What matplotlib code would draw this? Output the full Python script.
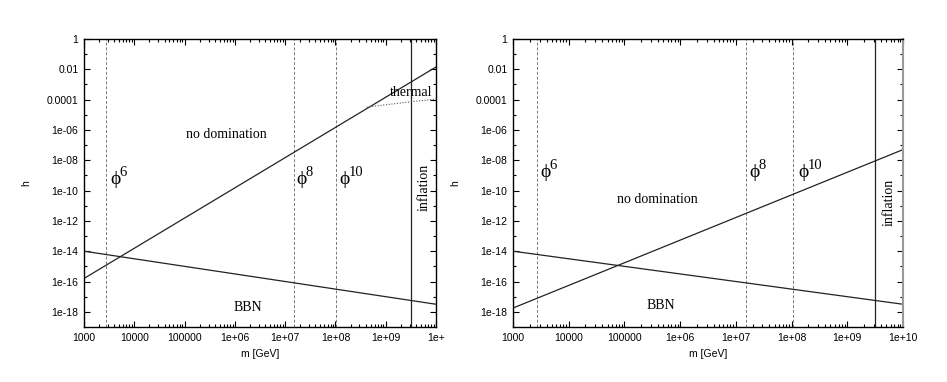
import numpy as np
import matplotlib
matplotlib.use("Agg")
import matplotlib.pyplot as plt
from matplotlib.ticker import FixedLocator, FixedFormatter, LogLocator, NullFormatter

# data
m_ends = [1e3, 1e10]
rise_left = [10**-15.8, 10**-1.85]      # h ~ m^2
rise_right = [10**-17.75, 10**-7.3]     # h ~ m^1.5
bbn = [10**-14.0, 10**-17.5]            # h ~ m^-0.5
thermal_m = [10**8.62, 10**9.3, 10**10]
thermal_h = [10**-4.5, 10**-4.22, 10**-3.96]
phi_m = [2.7e3, 1.5e7, 1.05e8]
phi_names = ["6", "8", "10"]
inflation_m = 3.2e9

xticks = [1e3, 1e4, 1e5, 1e6, 1e7, 1e8, 1e9, 1e10]
xlabels_left = ["1000", "10000", "100000", "1e+06", "1e+07", "1e+08", "1e+09", "1e+"]
xlabels_right = ["1000", "10000", "100000", "1e+06", "1e+07", "1e+08", "1e+09", "1e+10"]
yticks = [1, 1e-2, 1e-4, 1e-6, 1e-8, 1e-10, 1e-12, 1e-14, 1e-16, 1e-18]
ylabels = ["1", "0.01", "0.0001", "1e-06", "1e-08", "1e-10", "1e-12", "1e-14", "1e-16", "1e-18"]

serif = "Liberation Serif"
sans = "Liberation Sans"


def frame(ax, xlabels):
    ax.set_xscale("log")
    ax.set_yscale("log")
    ax.set_xlim(1e3, 1e10)
    ax.set_ylim(1e-19, 1)
    ax.xaxis.set_major_locator(FixedLocator(xticks))
    ax.xaxis.set_major_formatter(FixedFormatter(xlabels))
    ax.xaxis.set_minor_locator(LogLocator(base=10, subs=np.arange(2, 10), numticks=50))
    ax.xaxis.set_minor_formatter(NullFormatter())
    ax.yaxis.set_major_locator(FixedLocator(yticks))
    ax.yaxis.set_major_formatter(FixedFormatter(ylabels))
    ax.yaxis.set_minor_locator(FixedLocator([10.0**(-k) for k in range(1, 19, 2)]))
    ax.yaxis.set_minor_formatter(NullFormatter())
    ax.tick_params(which="both", direction="in", top=True, right=True, width=0.8)
    ax.tick_params(which="major", length=4, labelsize=7.5, pad=4)
    ax.tick_params(which="minor", length=2)
    for lab in ax.get_xticklabels() + ax.get_yticklabels():
        lab.set_fontfamily(sans)
    for s in ax.spines.values():
        s.set_linewidth(1.0)
    ax.set_xlabel("m [GeV]", fontsize=7.5, family=sans, labelpad=5)
    ax.set_ylabel("h", fontsize=7.5, family=sans, labelpad=11)
    for x in phi_m:
        ax.axvline(x, color="#777777", lw=0.7, ls=(0, (3, 2)))
    ax.axvline(inflation_m, color="#222222", lw=0.9)
    ax.plot(m_ends, bbn, color="#222222", lw=0.9)


def phi_label(ax, x, y, n):
    # upright phi, power drawn as a separate smaller raised text
    ax.annotate("ϕ", (x, y), fontsize=14, family=serif, ha="left", va="center")
    ax.annotate(n, (x, y), xytext=(6.5, 2.5), textcoords="offset points",
                fontsize=10.5, family=serif, ha="left", va="baseline")


def main():
    fig = plt.figure(figsize=(9.47, 3.82), dpi=100)
    ax1 = fig.add_axes([0.0887, 0.144, 0.3717, 0.754])
    ax2 = fig.add_axes([0.5417, 0.144, 0.4118, 0.754])

    # left panel
    frame(ax1, xlabels_left)
    ax1.plot(m_ends, rise_left, color="#222222", lw=0.9)
    ax1.plot(thermal_m, thermal_h, color="#555555", lw=0.8, ls=(0, (1, 1.5)))
    ax1.text(10**5.84, 10**-6.3, "no domination", fontsize=10, family=serif, ha="center", va="center")
    ax1.text(10**9.5, 10**-3.5, "thermal", fontsize=10, family=serif, ha="center", va="center")
    ax1.text(10**6.25, 10**-17.7, "BBN", fontsize=10, family=serif, ha="center", va="center")
    ax1.text(10**9.77, 10**-9.8, "inflation", fontsize=10, family=serif, ha="center", va="center", rotation=90)
    phi_x_left = [10**3.52, 10**7.23, 10**8.08]
    for x, n in zip(phi_x_left, phi_names):
        phi_label(ax1, x, 10**-9.3, n)

    # right panel
    frame(ax2, xlabels_right)
    ax2.plot(m_ends, rise_right, color="#222222", lw=0.9)
    ax2.text(10**5.6, 10**-10.6, "no domination", fontsize=10, family=serif, ha="center", va="center")
    ax2.text(10**5.66, 10**-17.55, "BBN", fontsize=10, family=serif, ha="center", va="center")
    ax2.text(10**9.76, 10**-10.8, "inflation", fontsize=10, family=serif, ha="center", va="center", rotation=90)
    phi_x_right = [10**3.5, 10**7.24, 10**8.12]
    for x, n in zip(phi_x_right, phi_names):
        phi_label(ax2, x, 10**-8.8, n)
    ax2.spines["right"].set_color("#999999")
    ax2.spines["right"].set_linewidth(1.5)

    fig.savefig("out.png", dpi=100)


if __name__ == "__main__":
    main()
